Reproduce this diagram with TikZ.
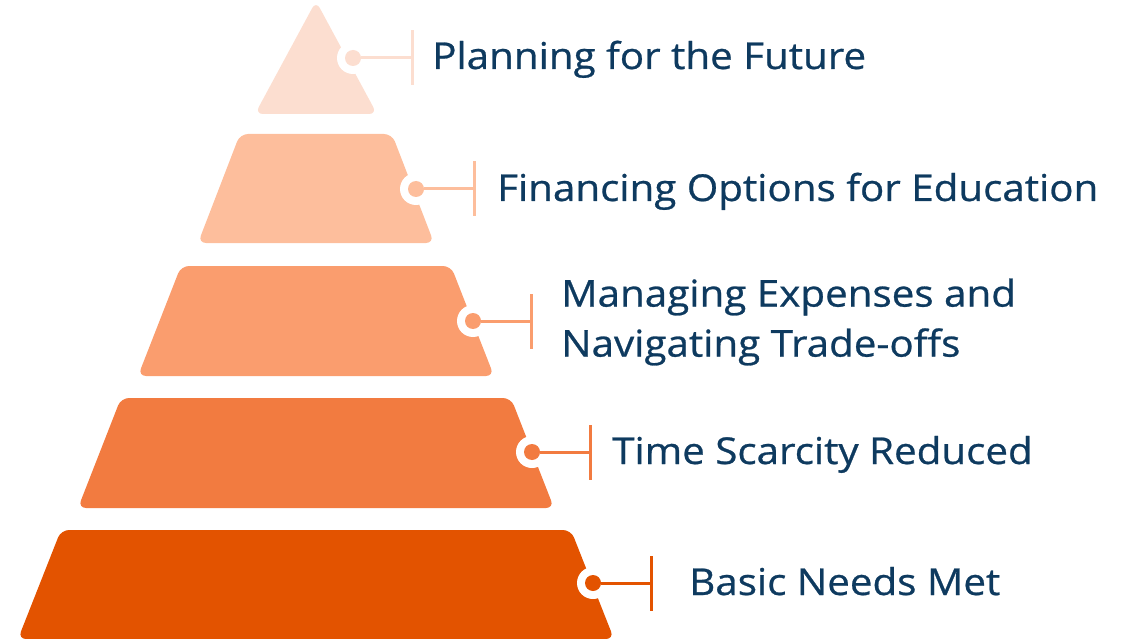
\documentclass[tikz,border=0pt]{standalone}
\usepackage{fontspec}
\setmainfont{Open Sans}
\newfontfamily\tierfont{Open Sans}[FakeBold=0.7, FakeStretch=1.09]
\usetikzlibrary{positioning}
\definecolor{blush}{HTML}{FCDED0}
\definecolor{peach}{HTML}{FDBE9C}
\definecolor{apricot}{HTML}{FA9D6E}
\definecolor{coral}{HTML}{F27B40}
\definecolor{ember}{HTML}{E35300}
\definecolor{navy}{HTML}{0E3A5F}

\begin{document}
\begin{tikzpicture}[x=1pt, y=-1pt,
		tier/.style={rounded corners=8pt},
		tierring/.style={circle, fill=white, inner sep=0pt, minimum size=32pt},
		tierdot/.style={circle, inner sep=0pt, outer sep=0pt, minimum size=16pt},
		tierbar/.style={inner sep=0pt, outer sep=0pt, minimum width=3pt, minimum height=55pt},
		tierline/.style={line width=3pt},
		tiertext/.style={text=navy, inner sep=0pt, font=\tierfont\fontsize{37}{50}\selectfont}]
	\useasboundingbox (0,0) rectangle (1127,639);

	% the five tiers, top to bottom
	\fill[tier, blush] (316,1) -- (377,114) -- (255,114) -- cycle;
	\fill[tier, peach] (240,134) -- (392,134) -- (434,243) -- (198,243) -- cycle;
	\fill[tier, apricot] (181,266) -- (451,266) -- (494,376) -- (138,376) -- cycle;
	\fill[tier, coral] (121,398) -- (511,398) -- (554,508) -- (78,508) -- cycle;
	\fill[tier, ember] (61,530) -- (571,530) -- (614,639) -- (18,639) -- cycle;

	% markers on the right edge
	\node[tierring] (ring1) at (353,58) {};
	\node[tierring] (ring2) at (416,189) {};
	\node[tierring] (ring3) at (473,321) {};
	\node[tierring] (ring4) at (532,452) {};
	\node[tierring] (ring5) at (593,583) {};
	\node[tierdot, fill=blush] (dot1) at (ring1) {};
	\node[tierdot, fill=peach] (dot2) at (ring2) {};
	\node[tierdot, fill=apricot] (dot3) at (ring3) {};
	\node[tierdot, fill=coral] (dot4) at (ring4) {};
	\node[tierdot, fill=ember] (dot5) at (ring5) {};

	\node[tierbar, fill=blush] (bar1) at (412,58) {};
	\node[tierbar, fill=peach] (bar2) at (474,189) {};
	\node[tierbar, fill=apricot] (bar3) at (531,321) {};
	\node[tierbar, fill=coral] (bar4) at (590,452) {};
	\node[tierbar, fill=ember] (bar5) at (651,583) {};

	\draw[tierline, blush] (dot1) -- (bar1);
	\draw[tierline, peach] (dot2) -- (bar2);
	\draw[tierline, apricot] (dot3) -- (bar3);
	\draw[tierline, coral] (dot4) -- (bar4);
	\draw[tierline, ember] (dot5) -- (bar5);

	% labels
	\node[tiertext, anchor=base west] (txt1) at (432,69) {Planning for the Future};
	\node[tiertext, anchor=base west] (txt2) at (497,201) {Financing Options for Education};
	\node[tiertext, anchor=west, align=left] (txt3) at (561,322) {Managing Expenses and\\Navigating Trade-offs};
	\node[tiertext, anchor=base west] (txt4) at (612,464) {Time Scarcity Reduced};
	\node[tiertext, anchor=base west] (txt5) at (689,595) {Basic Needs Met};
\end{tikzpicture}
\end{document}
